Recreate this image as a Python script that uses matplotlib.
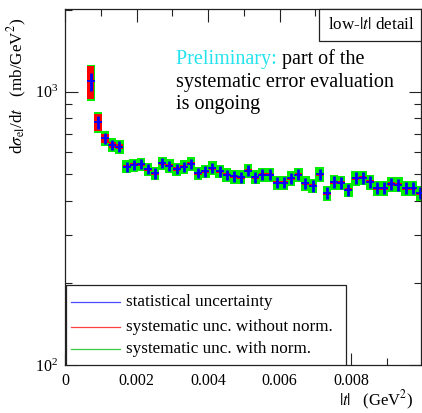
import numpy as np, matplotlib
matplotlib.use("Agg"); import matplotlib.pyplot as plt
from matplotlib.patches import Rectangle
from matplotlib.ticker import MultipleLocator, FuncFormatter, NullFormatter, LogLocator

# |t| bin centres (GeV^2) and dsigma/dt (mb/GeV^2)
t = [0.00072, 0.00092, 0.00112, 0.00132, 0.00152, 0.00172, 0.00192, 0.00212, 0.00232, 0.00252,
     0.00272, 0.00292, 0.00312, 0.00332, 0.00352, 0.00372, 0.00392, 0.00412, 0.00432, 0.00452,
     0.00472, 0.00492, 0.00512, 0.00532, 0.00552, 0.00572, 0.00592, 0.00612, 0.00632, 0.00652,
     0.00672, 0.00692, 0.00712, 0.00732, 0.00752, 0.00772, 0.00792, 0.00812, 0.00832, 0.00852,
     0.00872, 0.00892, 0.00912, 0.00932, 0.00952, 0.00972, 0.00992]
dsig = [1091, 774, 677, 639, 630, 532, 540, 543, 521, 503,
        548, 536, 522, 532, 545, 504, 511, 526, 511, 497,
        490, 487, 515, 487, 497, 497, 465, 465, 483, 497,
        463, 453, 499, 426, 467, 465, 438, 483, 485, 468,
        444, 444, 460, 457, 444, 444, 426]
# relative uncertainties (%)
stat = [7.5, 5.6, 4.7, 4.5, 4.5, 4.2, 4.2, 4.2, 4.2, 4.3,
        4.3, 4.3, 4.3, 4.3, 4.4, 4.4, 4.4, 4.4, 4.5, 4.5,
        4.5, 4.5, 4.6, 4.6, 4.6, 4.6, 4.7, 4.7, 4.7, 4.7,
        4.8, 4.8, 4.8, 4.8, 4.9, 4.9, 4.9, 4.9, 5.0, 5.0,
        5.0, 5.0, 5.0, 5.1, 5.1, 5.1, 5.1]
sys_nonorm = [14.0, 7.4, 3.9, 2.5, 2.0, 1.4, 1.3, 1.3, 1.3, 1.3,
              1.3, 1.3, 1.3, 1.3, 1.3, 1.3, 1.3, 1.3, 1.3, 1.3,
              1.3, 1.3, 1.3, 1.3, 1.3, 1.3, 1.3, 1.3, 1.3, 1.3,
              1.3, 1.3, 1.3, 1.3, 1.3, 1.3, 1.3, 1.3, 1.3, 1.3,
              1.3, 1.3, 1.3, 1.3, 1.3, 1.3, 1.3]
sys_norm = [15.0, 8.8, 6.5, 6.0, 6.0, 5.4, 5.4, 5.4, 5.4, 5.5,
            5.5, 5.5, 5.5, 5.6, 5.6, 5.6, 5.7, 5.7, 5.7, 5.8,
            5.8, 5.8, 5.8, 5.9, 5.9, 5.9, 5.9, 6.0, 6.0, 6.0,
            6.0, 6.1, 6.1, 6.1, 6.1, 6.2, 6.2, 6.2, 6.2, 6.3,
            6.3, 6.3, 6.3, 6.3, 6.4, 6.4, 6.4]

BLU = "#0000ff"; RED = "#ff0000"; GRN = "#00ee00"; CYA = "#22e3ee"; INK = "#222222"
plt.rcParams.update({"font.family": ["Liberation Serif", "DejaVu Serif"],
                     "mathtext.fontset": "stix", "font.size": 11.5})

W, H = 422, 413
fig = plt.figure(figsize=(W / 100, H / 100), dpi=100)
ax = fig.add_axes([65 / W, 48 / H, 356 / W, 356 / H])
def px(x, y):  # pixel position -> figure fraction
    return x / W, 1 - y / H

t = np.array(t); dsig = np.array(dsig, float)
gw, rw = 0.000238, 0.000205
for i in range(len(t)):
    g = dsig[i] * sys_norm[i] / 100; r = dsig[i] * sys_nonorm[i] / 100
    ax.add_patch(Rectangle((t[i] - gw / 2, dsig[i] - g), gw, 2 * g, fc=GRN, ec="none", zorder=2))
    ax.add_patch(Rectangle((t[i] - rw / 2, dsig[i] - r), rw, 2 * r, fc=RED, ec="none", zorder=3))
ax.errorbar(t, dsig, yerr=dsig * np.array(stat) / 100, fmt="_", color=BLU, ms=6, mew=1.3,
            elinewidth=2.0, capsize=0, zorder=4)

ax.set_yscale("log")
ax.set_xlim(0, 0.00995); ax.set_ylim(100, 2010)
ax.xaxis.set_major_locator(MultipleLocator(0.002)); ax.xaxis.set_minor_locator(MultipleLocator(0.001))
ax.xaxis.set_major_formatter(FuncFormatter(lambda v, p: f"{v:g}"))
ax.yaxis.set_minor_locator(LogLocator(base=10, subs=np.arange(2, 10)))
ax.yaxis.set_minor_formatter(NullFormatter())
ax.tick_params(which="both", direction="in", top=True, right=True, color=INK, labelsize=11.5)
ax.tick_params(which="major", length=9, width=0.8)
ax.tick_params(which="minor", length=5, width=0.8)
ax.tick_params(axis="x", pad=6); ax.tick_params(axis="y", pad=5)
for s in ax.spines.values():
    s.set_color(INK); s.set_linewidth(0.9)

# legend box
ax.add_patch(Rectangle(px(66, 365), (346 - 66) / W, (365 - 285) / H, transform=fig.transFigure,
                       fc="white", ec=INK, lw=0.9, zorder=6))
for yy, c, lab in [(301.7, "#4a4aff", "statistical uncertainty"),
                   (326.7, "#ff4040", "systematic unc. without norm."),
                   (349.3, "#3cc83c", "systematic unc. with norm.")]:
    x0, y0 = px(71, yy); x1, _ = px(120, yy)
    fig.add_artist(plt.Line2D([x0, x1], [y0, y0], color=c, lw=0.9, zorder=7))
    fig.text(*px(126, yy + 4), lab, fontsize=12.3, va="baseline", zorder=7)

# corner label
fig.add_artist(Rectangle(px(319, 41), (421 - 319) / W, 32 / H, transform=fig.transFigure,
                         fc="white", ec=INK, lw=0.9, zorder=6))
fig.text(*px(371, 25), r"low-$|t|$ detail", fontsize=12.3, ha="center", va="center", zorder=7)

r = fig.canvas.get_renderer()
pre = fig.text(*px(176, 64), "Preliminary: ", color=CYA, fontsize=14.5, va="baseline")
bb = pre.get_window_extent(r)
fig.text(bb.x1 / W, 1 - 64 / H, "part of the", fontsize=14.5, va="baseline")
fig.text(*px(176, 87), "systematic error evaluation", fontsize=14.5, va="baseline")
fig.text(*px(176, 109), "is ongoing", fontsize=14.5, va="baseline")

fig.text(*px(17, 86), r"d$\sigma_{\rm el}$/d$t$   (mb/GeV$^2$)", rotation=90, fontsize=12.3,
         ha="center", va="center")
fig.text(*px(376, 400), r"$|t|$   (GeV$^2$)", fontsize=12, ha="center", va="center")

fig.savefig("out.png", dpi=100)
